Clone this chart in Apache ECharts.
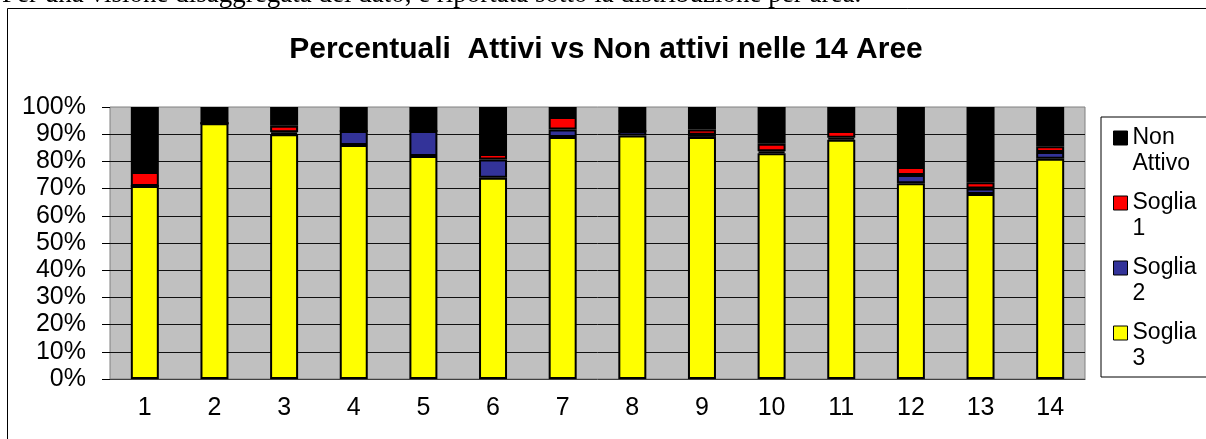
<!DOCTYPE html>
<html>
<head>
<meta charset="utf-8">
<script src="https://cdn.jsdelivr.net/npm/echarts@6/dist/echarts.min.js"></script>
<style>
html,body{margin:0;padding:0;background:#fff;}
#chart{width:1206px;height:439px;}
</style>
</head>
<body>
<div id="chart"></div>
<script>
// ---- data ----
const areas = ['1','2','3','4','5','6','7','8','9','10','11','12','13','14'];
const soglia3   = [71, 94, 90,  86,  82,  74,  89,  89.5, 89,  83,  88,  72,  68,  81];
const soglia2   = [0,  0,  0.7, 5.2, 9.2, 6.7, 2.7, 1.7,  0.8, 0.7, 0.7, 3,   2,   2.5];
const soglia1   = [5.1,0,  2.4, 0,   0,   2,   4.6, 0,    1.9, 2.8, 2.5, 2.9, 2.3, 2.1];
const nonAttivo = [23.9,6, 6.9, 8.8, 8.8, 17.3,3.7, 8.8,  8.3, 13.5,8.8, 22.1,27.7,14.4];
const yTicks = [0,10,20,30,40,50,60,70,80,90,100];
const titleText = 'Percentuali  Attivi vs Non attivi nelle 14 Aree';
const topText = 'Per una visione disaggregata del dato, è riportata sotto la distribuzione per area.';
const seriesNames = ['Soglia 3','Soglia 2','Soglia 1','Non Attivo'];
const legendOrder = ['Non Attivo','Soglia 1','Soglia 2','Soglia 3'];
const colors = {'Soglia 3':'#FFFF00','Soglia 2':'#333399','Soglia 1':'#FF0000','Non Attivo':'#000000'};
const values = {'Soglia 3':soglia3,'Soglia 2':soglia2,'Soglia 1':soglia1,'Non Attivo':nonAttivo};

const FONT = '"Liberation Sans", Arial, sans-serif';
const chart = echarts.init(document.getElementById('chart'), null, {renderer:'canvas'});

// legend icon: square at top of a taller box so it aligns with the first text line
const iconPath = 'path://M0,0 L14,0 L14,14 L0,14 Z M0,40 L0,40';

chart.setOption({
  animation: false,
  backgroundColor: '#ffffff',
  title: {
    text: titleText,
    left: 601, top: 30, textAlign: 'center',
    textStyle: {fontFamily: FONT, fontSize: 30, fontWeight: 'bold', color: '#000'}
  },
  graphic: [
    {type:'rect', shape:{x:7.5, y:8.5, width:1400, height:600}, style:{fill:null, stroke:'#000', lineWidth:1}, silent:true, z:-1},
    {type:'text', x:2, y:-5, style:{text: topText, font:'27px "Liberation Serif", "Times New Roman", serif', fill:'#000', verticalAlign:'middle', align:'left'}, silent:true}
  ],
  legend: {
    orient: 'vertical',
    left: 1101, top: 117,
    padding: [8, 60, 5, 12],
    itemGap: 13,
    itemWidth: 14, itemHeight: 40,
    borderColor: '#000', borderWidth: 1,
    backgroundColor: '#fff',
    data: legendOrder.map(n => ({name:n, icon: iconPath})),
    formatter: n => n.replace(' ', '\n'),
    textStyle: {fontFamily: FONT, fontSize: 23, lineHeight: 26, color:'#000'},
    itemStyle: {borderColor:'#000', borderWidth:1}
  },
  grid: {
    left: 110, top: 107, width: 975, height: 272,
    show: true, backgroundColor: '#C0C0C0', borderColor: '#808080', borderWidth: 1
  },
  xAxis: {
    type: 'category', data: areas,
    axisLine: {show:true, lineStyle:{color:'#404040', width:1}},
    axisTick: {show:false},
    axisLabel: {fontFamily: FONT, fontSize: 25, color:'#000', margin: 17},
    splitLine: {show:false}
  },
  yAxis: {
    type: 'value', min: yTicks[0], max: yTicks[yTicks.length-1], interval: 10,
    axisLine: {show:false},
    axisTick: {show:true, length: 8, lineStyle:{color:'#000'}},
    axisLabel: {fontFamily: FONT, fontSize: 25, color:'#000', margin: 24, formatter: '{value}%'},
    splitLine: {show:true, showMinLine:false, showMaxLine:false, lineStyle:{color:'#111', width:1}}
  },
  series: seriesNames.map(n => ({
    name: n, type: 'bar', stack: 'tot', barWidth: 28,
    data: values[n],
    itemStyle: {color: colors[n], borderColor:'#000', borderWidth:2},
    emphasis: {disabled:true}
  }))
});
</script>
</body>
</html>
